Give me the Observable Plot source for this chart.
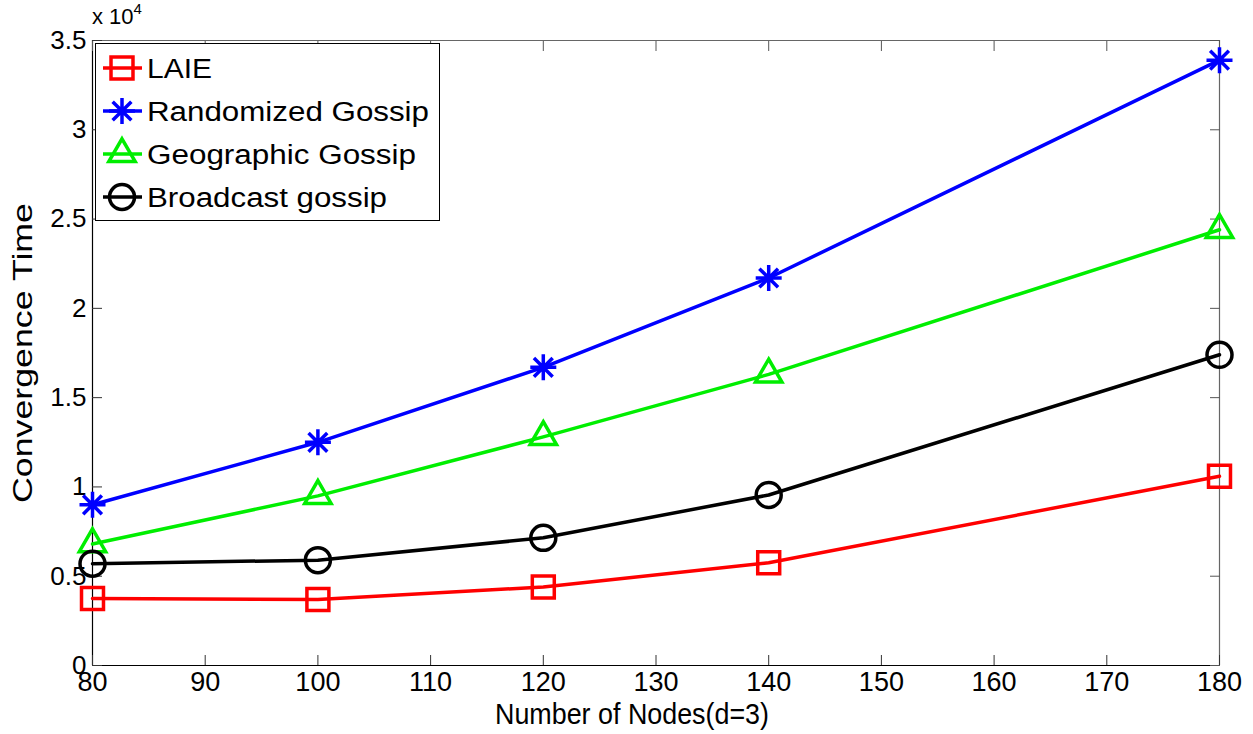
<!DOCTYPE html>
<html><head><meta charset="utf-8">
<script src="https://cdn.jsdelivr.net/npm/d3@7"></script>
<script src="https://cdn.jsdelivr.net/npm/@observablehq/plot@0.6"></script>
<style>
body{margin:0;background:#fff;}
#wrap{position:relative;width:1253px;height:734px;font-family:"Liberation Sans",Arial,sans-serif;}
#exp{position:absolute;left:92px;top:2px;font-size:22px;color:#000;}
#exp sup{font-size:15px;position:relative;top:-2px;}
#legend{position:absolute;left:95px;top:43px;}
</style>
</head><body><div id="wrap"><div id="exp">x 10<sup>4</sup></div></div>
<script>
const nodes = [80, 100, 120, 140, 180];
const laie = [3750, 3700, 4400, 5750, 10600];
const randomized = [9000, 12500, 16700, 21700, 33900];
const geographic = [6800, 9500, 12800, 16300, 24400];
const broadcast = [5700, 5900, 7150, 9550, 17400];
const seriesNames = ["LAIE", "Randomized Gossip", "Geographic Gossip", "Broadcast gossip"];
const seriesColors = ["#ff0000", "#0000ff", "#00ee00", "#000000"];
const xTicks = [80, 90, 100, 110, 120, 130, 140, 150, 160, 170, 180];
const yTicks = [0, 5000, 10000, 15000, 20000, 25000, 30000, 35000];
const yTickLabels = ["0", "0.5", "1", "1.5", "2", "2.5", "3", "3.5"];
const xLabel = "Number of Nodes(d=3)";
const yLabel = "Convergence Time";

const asterisk = {
  draw(ctx, size) {
    const r = Math.sqrt(size / Math.PI), d = r * 0.72;
    ctx.moveTo(-r, 0); ctx.lineTo(r, 0);
    ctx.moveTo(0, -r); ctx.lineTo(0, r);
    ctx.moveTo(-d, -d); ctx.lineTo(d, d);
    ctx.moveTo(-d, d); ctx.lineTo(d, -d);
  }
};
const symbols = [d3.symbolSquare, asterisk, d3.symbolTriangle, d3.symbolCircle];
const radii = [12.4, 13, 9.8, 12.5];

const seriesValues = [laie, randomized, geographic, broadcast];
const rows = [];
seriesNames.forEach((s, i) => nodes.forEach((n, j) => rows.push({series: s, x: n, y: seriesValues[i][j]})));

const marks = [];
// frame
marks.push(Plot.ruleY([0], {stroke: "#000", strokeWidth: 1.2}));
marks.push(Plot.ruleX([80], {stroke: "#000", strokeWidth: 1.2}));
marks.push(Plot.ruleY([35000], {stroke: "#666", strokeWidth: 1.2}));
marks.push(Plot.ruleX([180], {stroke: "#666", strokeWidth: 1.2}));
// ticks inward
marks.push(Plot.axisX(xTicks, {anchor: "bottom", tickSize: -10, fill: "none", stroke: "#333", label: null}));
marks.push(Plot.axisX(xTicks, {anchor: "top", tickSize: -10, fill: "none", stroke: "#555", label: null}));
marks.push(Plot.axisY(yTicks, {anchor: "left", tickSize: -10, fill: "none", stroke: "#333", label: null}));
marks.push(Plot.axisY(yTicks, {anchor: "right", tickSize: -10, fill: "none", stroke: "#555", label: null}));
// tick labels
marks.push(Plot.axisX(xTicks, {anchor: "bottom", tickSize: 0, tickPadding: 6, fontSize: 27, fill: "#000", label: null}));
marks.push(Plot.axisY(yTicks, {anchor: "left", tickSize: 0, tickPadding: 6, fontSize: 26, fill: "#000", label: null,
  tickFormat: (d) => yTickLabels[yTicks.indexOf(d)]}));
// axis titles
marks.push(Plot.text([xLabel], {frameAnchor: "bottom", dy: 49, dx: -24, text: d => d, fontSize: 30, fill: "#000",
  lineAnchor: "middle", textAnchor: "middle", className: "xlab"}));
marks.push(Plot.text([yLabel], {frameAnchor: "left", dx: -69, rotate: -90, text: d => d, fontSize: 28, fill: "#000",
  lineAnchor: "middle", textAnchor: "middle", className: "ylab"}));
// series
seriesNames.forEach((s, i) => {
  const data = rows.filter(r => r.series === s);
  marks.push(Plot.line(data, {x: "x", y: "y", stroke: seriesColors[i], strokeWidth: 3.5}));
  marks.push(Plot.dot(data, {x: "x", y: "y", symbol: symbols[i], r: radii[i], stroke: seriesColors[i], strokeWidth: 3.5, fill: "none"}));
});

const chart = Plot.plot({
  width: 1253, height: 734,
  marginLeft: 92, marginRight: 34, marginTop: 40, marginBottom: 69,
  style: {fontFamily: "'Liberation Sans', Arial, sans-serif", fontSize: "26px", background: "#fff", color: "#000"},
  x: {domain: [80, 180], axis: null},
  y: {domain: [0, 35000], axis: null},
  marks
});
const wrap = document.getElementById("wrap");
wrap.insertBefore(chart, wrap.firstChild);
d3.select(chart).selectAll(".xlab text").attr("textLength", 274).attr("lengthAdjust", "spacingAndGlyphs");
d3.select(chart).selectAll(".ylab text").attr("textLength", 300).attr("lengthAdjust", "spacingAndGlyphs");

// legend
const legendTextLengths = [65, 282, 269, 240];
const lw = 344, lh = 177;
const leg = d3.select(wrap).append("svg").attr("id", "legend").attr("width", lw + 1).attr("height", lh + 1);
leg.append("rect").attr("x", 0.5).attr("y", 0.5).attr("width", lw).attr("height", lh).attr("fill", "#fff").attr("stroke", "#000");
seriesNames.forEach((s, i) => {
  const cy = 25 + i * 43;
  const g = leg.append("g");
  g.append("line").attr("x1", 8).attr("x2", 47).attr("y1", cy).attr("y2", cy).attr("stroke", seriesColors[i]).attr("stroke-width", 3.5);
  g.append("path").attr("transform", `translate(27,${cy})`)
    .attr("d", d3.symbol(symbols[i], Math.PI * radii[i] * radii[i])())
    .attr("fill", "none").attr("stroke", seriesColors[i]).attr("stroke-width", 3.5);
  g.append("text").attr("x", 52).attr("y", cy).attr("dy", "0.36em").attr("font-size", 27)
    .attr("textLength", legendTextLengths[i]).attr("lengthAdjust", "spacingAndGlyphs")
    .attr("font-family", "'Liberation Sans', Arial, sans-serif").text(s);
});
</script>
</body></html>
